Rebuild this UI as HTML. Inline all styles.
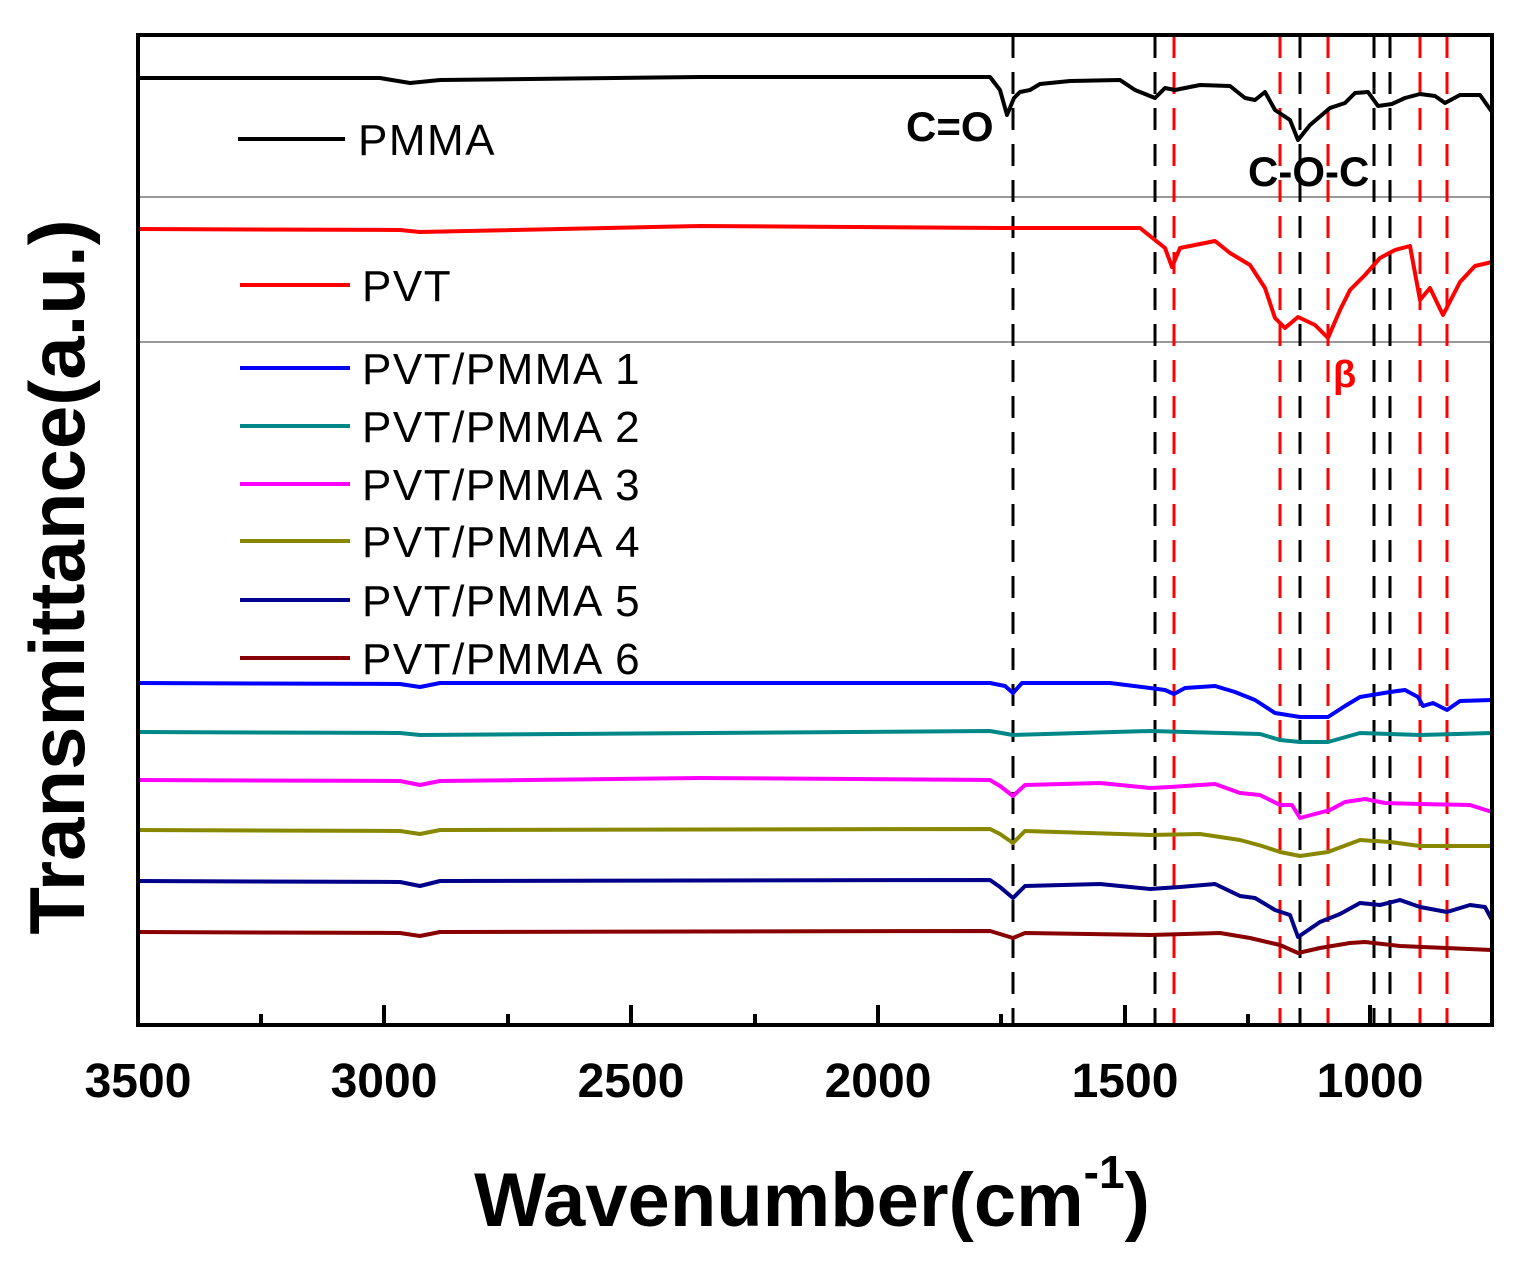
<!DOCTYPE html>
<html><head><meta charset="utf-8"><style>
body{margin:0;background:#fff}
svg text{font-family:"Liberation Sans",sans-serif}
</style></head><body>
<svg width="1521" height="1279" viewBox="0 0 1521 1279" xmlns="http://www.w3.org/2000/svg">
<rect width="1521" height="1279" fill="#fff"/>
<line x1="138" y1="197" x2="1492" y2="197" stroke="#999" stroke-width="2"/>
<line x1="138" y1="342" x2="1492" y2="342" stroke="#999" stroke-width="2"/>
<g stroke-width="3" stroke-dasharray="22,14" fill="none">
<line x1="1013" y1="36" x2="1013" y2="1025" stroke="#000"/>
<line x1="1155" y1="36" x2="1155" y2="1025" stroke="#000"/>
<line x1="1300" y1="36" x2="1300" y2="1025" stroke="#000"/>
<line x1="1374" y1="36" x2="1374" y2="1025" stroke="#000"/>
<line x1="1390" y1="36" x2="1390" y2="1025" stroke="#000"/>
<line x1="1174" y1="36" x2="1174" y2="1025" stroke="#f00"/>
<line x1="1280" y1="36" x2="1280" y2="1025" stroke="#f00"/>
<line x1="1328" y1="36" x2="1328" y2="1025" stroke="#f00"/>
<line x1="1420" y1="36" x2="1420" y2="1025" stroke="#f00"/>
<line x1="1447" y1="36" x2="1447" y2="1025" stroke="#f00"/>
</g>
<g fill="none" stroke-width="4" stroke-linejoin="round">
<polyline stroke="#000" points="138,78 380,78 410,83 440,80 700,77 990,77 1000,90 1007,115 1014,98 1020,92 1030,90 1040,84 1070,81 1120,80 1135,90 1155,98 1165,88 1175,90 1200,85 1230,86 1245,98 1255,100 1265,92 1275,110 1290,120 1298,140 1310,125 1330,108 1345,103 1355,93 1368,92 1378,106 1392,104 1405,98 1420,94 1435,96 1445,103 1460,95 1480,95 1492,112"/>
<polyline stroke="#f00" points="138,229 400,230 420,232 700,226 1000,228 1140,228 1155,240 1165,248 1172,267 1180,248 1200,244 1215,241 1230,253 1250,265 1265,288 1275,318 1285,328 1298,317 1315,325 1328,338 1340,310 1350,290 1365,275 1380,258 1395,250 1410,246 1420,300 1430,288 1443,315 1460,282 1475,266 1492,262"/>
<polyline stroke="#00f" points="138,683 400,684 420,687 440,683 990,683 1005,686 1013,693 1022,683 1110,683 1150,688 1165,690 1174,694 1185,688 1215,686 1235,692 1255,700 1275,713 1300,717 1328,717 1345,706 1360,697 1390,692 1405,690 1418,697 1423,706 1433,703 1447,710 1460,701 1492,700"/>
<polyline stroke="#088" points="138,732 400,733 420,735 990,731 1013,735 1150,731 1260,734 1280,740 1300,742 1328,742 1360,733 1420,735 1492,733"/>
<polyline stroke="#f0f" points="138,780 400,781 420,785 440,781 700,778 990,780 1000,786 1013,796 1025,785 1100,783 1150,788 1170,787 1215,784 1240,793 1260,795 1280,805 1292,805 1300,818 1330,810 1345,802 1365,799 1385,803 1420,804 1470,805 1492,812"/>
<polyline stroke="#880" points="138,830 400,831 420,834 440,830 990,829 1000,834 1013,843 1025,831 1150,835 1200,834 1240,840 1262,846 1280,852 1300,856 1328,852 1360,840 1390,842 1420,846 1492,846"/>
<polyline stroke="#008" points="138,881 400,882 420,886 440,881 990,880 1000,887 1013,898 1025,886 1100,884 1150,889 1180,887 1215,884 1240,896 1255,898 1275,910 1290,915 1298,937 1320,922 1340,914 1360,903 1380,905 1400,900 1420,907 1447,912 1470,905 1485,907 1492,920"/>
<polyline stroke="#800" points="138,932 400,933 420,936 440,932 990,931 1000,934 1013,938 1025,933 1150,935 1220,933 1250,938 1280,945 1298,953 1320,948 1350,943 1365,942 1400,946 1492,950"/>
</g>
<rect x="138" y="35" width="1354" height="990" fill="none" stroke="#000" stroke-width="4"/>
<g stroke="#000" stroke-width="4">
<line x1="138" y1="1025" x2="138" y2="1005"/>
<line x1="384" y1="1025" x2="384" y2="1005"/>
<line x1="631" y1="1025" x2="631" y2="1005"/>
<line x1="878" y1="1025" x2="878" y2="1005"/>
<line x1="1125" y1="1025" x2="1125" y2="1005"/>
<line x1="1370" y1="1025" x2="1370" y2="1005"/>
<line x1="261" y1="1025" x2="261" y2="1014"/>
<line x1="508" y1="1025" x2="508" y2="1014"/>
<line x1="755" y1="1025" x2="755" y2="1014"/>
<line x1="1001" y1="1025" x2="1001" y2="1014"/>
<line x1="1248" y1="1025" x2="1248" y2="1014"/>
</g>
<g font-size="48" font-weight="bold" text-anchor="middle" fill="#000">
<text x="138" y="1097">3500</text>
<text x="384" y="1097">3000</text>
<text x="631" y="1097">2500</text>
<text x="878" y="1097">2000</text>
<text x="1125" y="1097">1500</text>
<text x="1370" y="1097">1000</text>
</g>
<text x="812" y="1226" font-size="76" font-weight="bold" text-anchor="middle">Wavenumber(cm<tspan font-size="46" dy="-38">-1</tspan><tspan dy="38">)</tspan></text>
<text transform="translate(84,577) rotate(-90)" font-size="78" font-weight="bold" text-anchor="middle">Transmittance(a.u.)</text>
<text x="906" y="141" font-size="42" font-weight="bold">C=O</text>
<text x="1248" y="186" font-size="42" font-weight="bold">C-O-C</text>
<text x="1333" y="387" font-size="38" font-weight="bold" fill="#f00" font-family="Liberation Serif">β</text>
<g stroke-width="4">
<line x1="238" y1="139" x2="345" y2="139" stroke="#000"/>
<line x1="240" y1="285" x2="350" y2="285" stroke="#f00"/>
<line x1="240" y1="368" x2="350" y2="368" stroke="#00f"/>
<line x1="240" y1="426" x2="350" y2="426" stroke="#088"/>
<line x1="240" y1="484" x2="350" y2="484" stroke="#f0f"/>
<line x1="240" y1="541" x2="350" y2="541" stroke="#880"/>
<line x1="240" y1="600" x2="350" y2="600" stroke="#008"/>
<line x1="240" y1="658" x2="350" y2="658" stroke="#800"/>
</g>
<g font-size="44" fill="#000" letter-spacing="1.5">
<text x="358" y="155">PMMA</text>
<text x="362" y="301">PVT</text>
<text x="362" y="384">PVT/PMMA 1</text>
<text x="362" y="442">PVT/PMMA 2</text>
<text x="362" y="500">PVT/PMMA 3</text>
<text x="362" y="557">PVT/PMMA 4</text>
<text x="362" y="616">PVT/PMMA 5</text>
<text x="362" y="674">PVT/PMMA 6</text>
</g>
</svg>
</body></html>
